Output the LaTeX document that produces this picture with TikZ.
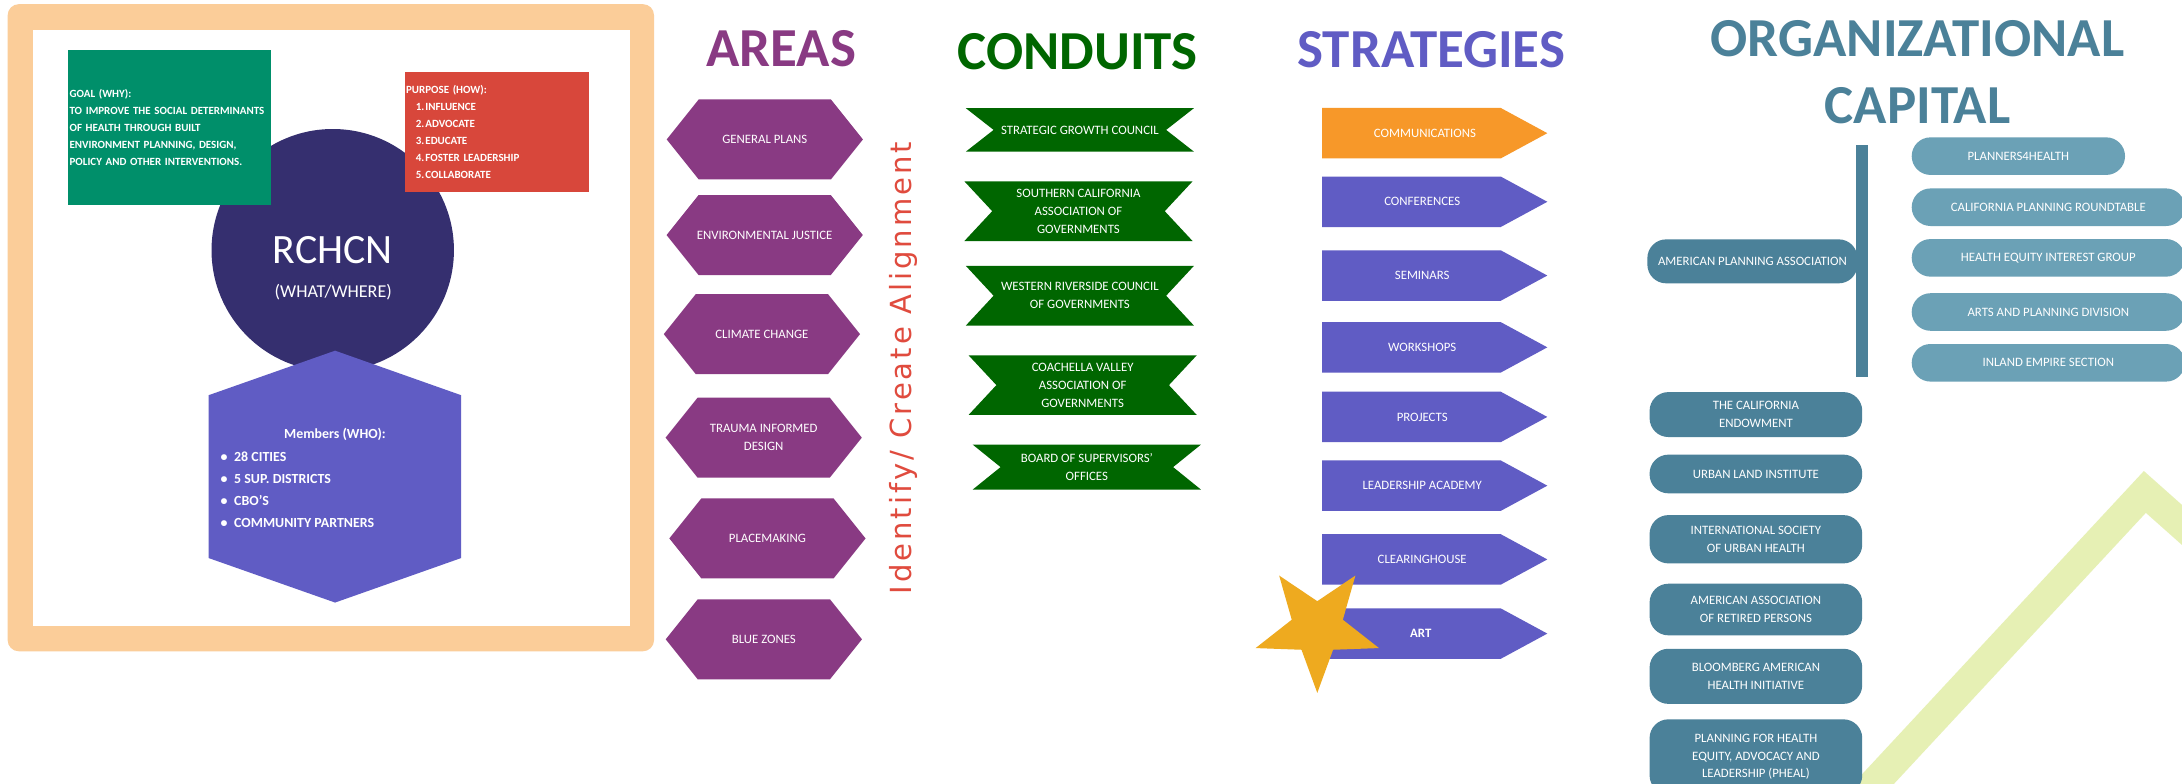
\documentclass[tikz,border=0pt]{standalone}
\usepackage{fontspec}
\setmainfont{Carlito}
\newfontfamily\alignfont[LetterSpace=10.3]{DejaVu Sans}

\definecolor{framecol}{RGB}{251,205,153}
\definecolor{goalcol}{RGB}{0,143,106}
\definecolor{purposecol}{RGB}{216,71,59}
\definecolor{hubcol}{RGB}{53,47,111}
\definecolor{membercol}{RGB}{96,92,196}
\definecolor{areacol}{RGB}{137,58,131}
\definecolor{conduitcol}{RGB}{0,102,0}
\definecolor{stratcol}{RGB}{96,92,196}
\definecolor{commcol}{RGB}{247,152,41}
\definecolor{starcol}{RGB}{238,170,31}
\definecolor{aligncol}{RGB}{224,75,62}
\definecolor{capcol}{RGB}{75,129,153}
\definecolor{subcol}{RGB}{107,161,182}
\definecolor{chevcol}{RGB}{230,240,180}

\newcommand{\areahex}[2]{\fill[areacol] (#1-70.5,#2) -- ++(23,-28.75) -- ++(95,0) -- ++(23,28.75) -- ++(-23,28.75) -- ++(-95,0) -- cycle;}
\newcommand{\ribbon}[3]{\fill[conduitcol] (#1,#2) -- (#1+164,#2) -- (#1+144,{(#2+#3)/2}) -- (#1+164,#3) -- (#1,#3) -- (#1+20,{(#2+#3)/2}) -- cycle;}
\newcommand{\stratarrow}[2]{\fill[#1] (950,#2-18.15) -- (1078.4,#2-18.15) -- (1111.9,#2) -- (1078.4,#2+18.15) -- (950,#2+18.15) -- cycle;}

\begin{document}
\begin{tikzpicture}[x=1pt, y=-1pt,
  heading/.style = {font=\bfseries\fontsize{39.5}{48.2}\selectfont, align=center, inner sep=0},
  tag/.style = {text=white, font=\fontsize{9.2}{12.9}\selectfont, align=center, inner sep=0},
  orgpill/.style = {tag, fill=capcol, rounded corners=13.5pt, minimum width=152.8pt},
  subpill/.style = {tag, fill=subcol, rounded corners=13.5pt, minimum width=196.3pt, minimum height=27pt},
  infobox/.style = {text=white, font=\bfseries\fontsize{7.9}{12.3}\selectfont, align=left, inner ysep=0}]
\useasboundingbox (0,0) rectangle (1568,563);
\clip (0,0) rectangle (1568,563);
\fill[white] (0,0) rectangle (1568,563);
\draw[chevcol, line width=21.5pt] (1312.2,600) -- (1541.3,353.5) -- (1600,405.7);

\fill[framecol, rounded corners=8pt] (5.5,3) rectangle (470,468);
\fill[white] (23.7,21.4) rectangle (452.5,450);
\node[circle, fill=hubcol, minimum size=174.2pt, inner sep=0] (hub) at (239.1,179.8) {};
\node[infobox, fill=goalcol, minimum width=146pt, minimum height=111pt, text width=144pt, inner xsep=1pt] (goal) at (122,91.5)
  {GOAL (WHY):\\TO IMPROVE THE SOCIAL DETERMINANTS\\OF HEALTH THROUGH BUILT\\ENVIRONMENT PLANNING, DESIGN,\\POLICY AND OTHER INTERVENTIONS.};
\node[infobox, fill=purposecol, minimum width=132pt, minimum height=86.6pt, text width=130.4pt, inner xsep=0.8pt] (purpose) at (357,94.7)
  {PURPOSE (HOW):\\\hspace*{7pt}1.\hspace{0.8pt}INFLUENCE\\\hspace*{7pt}2.\hspace{0.8pt}ADVOCATE\\\hspace*{7pt}3.\hspace{0.8pt}EDUCATE\\\hspace*{7pt}4.\hspace{0.8pt}FOSTER LEADERSHIP\\\hspace*{7pt}5.\hspace{0.8pt}COLLABORATE};
\node[anchor=base, text=white, font=\fontsize{30}{30}\selectfont, inner sep=0] (rchcn) at (239.1,189) {RCHCN};
\node[anchor=base, text=white, font=\fontsize{13}{13}\selectfont, inner sep=0] (where) at (239.5,213.9) {(WHAT/WHERE)};
\fill[membercol] (240.8,252) -- (331.4,284) -- (331.4,401) -- (240.8,433) -- (149.9,401) -- (149.9,284) -- cycle;
\node[anchor=base, text=white, font=\bfseries\fontsize{10}{12}\selectfont, inner sep=0] (who) at (240.7,314.8) {Members (WHO):};
\node[anchor=west, align=left, text=white, font=\bfseries\fontsize{10}{15.7}\selectfont, inner sep=0] (members) at (158.4,351.9)
  {\textbullet\hspace{4.7pt}28 CITIES\\\textbullet\hspace{4.7pt}5 SUP. DISTRICTS\\\textbullet\hspace{4.7pt}CBO'S\\\textbullet\hspace{4.7pt}COMMUNITY PARTNERS};

\node[heading, text=areacol] (areas) at (561.4,35.1) {AREAS};
\node[heading, text=conduitcol] (conduits) at (774.5,37.3) {CONDUITS};
\node[heading, text=stratcol] (strategies) at (1028.5,35.5) {STRATEGIES};
\node[heading, text=capcol] (capital) at (1378,51.6) {ORGANIZATIONAL\\CAPITAL};

\areahex{549.6}{100.2}
\node[tag] (plans) at (549.6,100.2) {GENERAL PLANS};
\areahex{549.5}{168.9}
\node[tag] (justice) at (549.5,168.9) {ENVIRONMENTAL JUSTICE};
\areahex{547.5}{240.1}
\node[tag] (climate) at (547.5,240.1) {CLIMATE CHANGE};
\areahex{548.8}{314.5}
\node[tag] (trauma) at (548.8,314.5) {TRAUMA INFORMED\\DESIGN};
\areahex{551.5}{386.9}
\node[tag] (placemaking) at (551.5,386.9) {PLACEMAKING};
\areahex{548.9}{459.4}
\node[tag] (bluezones) at (548.9,459.4) {BLUE ZONES};

\node[rotate=90, anchor=base, text=aligncol, font=\alignfont\fontsize{20.9}{24}\selectfont, inner sep=0] (idalign) at (654.8,264.5) {Identify/ Create Alignment};

\ribbon{694}{77.7}{109}
\node[tag] (sgc) at (776,93.4) {STRATEGIC GROWTH COUNCIL};
\ribbon{693}{130.3}{173.2}
\node[tag] (scag) at (775,151.8) {SOUTHERN CALIFORNIA\\ASSOCIATION OF\\GOVERNMENTS};
\ribbon{694}{191}{234}
\node[tag] (wrcog) at (776,212.5) {WESTERN RIVERSIDE COUNCIL\\OF GOVERNMENTS};
\ribbon{696}{255.3}{298.2}
\node[tag] (cvag) at (778,276.8) {COACHELLA VALLEY\\ASSOCIATION OF\\GOVERNMENTS};
\ribbon{699}{319.5}{351.8}
\node[tag] (bos) at (781,335.7) {BOARD OF SUPERVISORS'\\OFFICES};

\stratarrow{commcol}{95.7}
\node[tag] (comm) at (1024,95.7) {COMMUNICATIONS};
\stratarrow{stratcol}{145}
\node[tag] (conf) at (1022,145) {CONFERENCES};
\stratarrow{stratcol}{198}
\node[tag] (sem) at (1022,198) {SEMINARS};
\stratarrow{stratcol}{249.6}
\node[tag] (work) at (1022,249.6) {WORKSHOPS};
\stratarrow{stratcol}{299.6}
\node[tag] (proj) at (1022,299.6) {PROJECTS};
\stratarrow{stratcol}{349}
\node[tag] (lead) at (1022,349) {LEADERSHIP ACADEMY};
\stratarrow{stratcol}{402}
\node[tag] (clear) at (1022,402) {CLEARINGHOUSE};
\stratarrow{stratcol}{455.3}
\node[tag, font=\bfseries\fontsize{9.2}{12.9}\selectfont] (art) at (1021,455.3) {ART};
\fill[starcol] (946.6,451.3) +(90:46.6) -- +(126:19.3) -- +(162:46.6) -- +(198:19.3) -- +(234:46.6) -- +(270:19.3) -- +(306:46.6) -- +(342:19.3) -- +(18:46.6) -- +(54:19.3) -- cycle;

\fill[capcol] (1334,104.2) rectangle (1342.2,271.1);
\node[orgpill, minimum width=151pt, minimum height=31.6pt] (apa) at (1259.3,187.8) {AMERICAN PLANNING ASSOCIATION};
\node[subpill, minimum width=153.3pt] (p4h) at (1450.4,112.2) {PLANNERS4HEALTH};
\node[subpill] (cprt) at (1471.9,148.9) {CALIFORNIA PLANNING ROUNDTABLE};
\node[subpill] (heig) at (1471.9,185.3) {HEALTH EQUITY INTEREST GROUP};
\node[subpill] (apd) at (1471.9,224.2) {ARTS AND PLANNING DIVISION};
\node[subpill] (ies) at (1471.9,260.7) {INLAND EMPIRE SECTION};
\node[orgpill, minimum height=32.3pt] (tce) at (1261.8,297.9) {THE CALIFORNIA\\ENDOWMENT};
\node[orgpill, minimum height=27.8pt] (uli) at (1261.8,340.6) {URBAN LAND INSTITUTE};
\node[orgpill, minimum height=34.7pt] (isuh) at (1261.8,387.5) {INTERNATIONAL SOCIETY\\OF URBAN HEALTH};
\node[orgpill, minimum height=37.1pt] (aarp) at (1261.8,438) {AMERICAN ASSOCIATION\\OF RETIRED PERSONS};
\node[orgpill, minimum height=39.6pt] (bahi) at (1261.8,486) {BLOOMBERG AMERICAN\\HEALTH INITIATIVE};
\node[orgpill, minimum height=53.8pt] (pheal) at (1261.8,543.8) {PLANNING FOR HEALTH\\EQUITY, ADVOCACY AND\\LEADERSHIP (PHEAL)};
\end{tikzpicture}
\end{document}
